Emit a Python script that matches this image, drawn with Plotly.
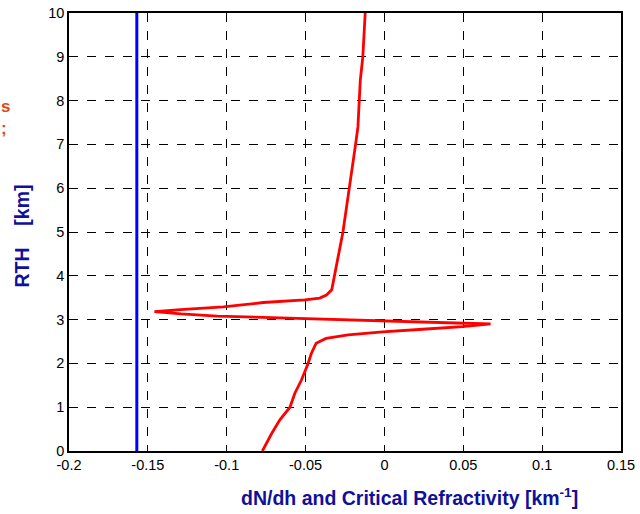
import plotly.graph_objects as go

# Refractivity gradient profile dN/dh [1/km] versus height [km]
dndh = [-0.0774, -0.0715, -0.0663, -0.0599, -0.0568, -0.0526, -0.0484, -0.0463,
        -0.0433, -0.0370, -0.0230, -0.0011, 0.0242, 0.0495, 0.0673, 0.0390,
        0.0137, -0.0179, -0.0494, -0.0811, -0.1060, -0.1290, -0.1458, -0.1294,
        -0.1021, -0.0768, -0.0505, -0.0410, -0.0368, -0.0334, -0.0315, -0.0290,
        -0.0263, -0.0242, -0.0225, -0.0204, -0.0183, -0.0168, -0.0158, -0.0153,
        -0.0137, -0.0122]
height = [0.00, 0.40, 0.71, 1.00, 1.32, 1.62, 2.00, 2.23,
          2.46, 2.57, 2.65, 2.72, 2.78, 2.84, 2.90, 2.93,
          2.95, 2.99, 3.01, 3.05, 3.08, 3.13, 3.18, 3.23,
          3.29, 3.39, 3.45, 3.49, 3.56, 3.68, 4.00, 4.50,
          5.00, 5.50, 6.00, 6.50, 7.00, 7.40, 8.00, 8.47,
          9.00, 10.00]

# Critical refractivity gradient (constant)
critical = -0.157
crit_height = [0, 10]

x_ticks = [-0.2, -0.15, -0.1, -0.05, 0, 0.05, 0.1, 0.15]
x_tick_text = ["-0.2", "-0.15", "-0.1", "-0.05", "0", "0.05", "0.1", "0.15"]
y_ticks = list(range(0, 11))

fig = go.Figure()
fig.add_trace(go.Scatter(x=[critical, critical], y=crit_height, mode="lines",
                         line=dict(color="#0000ff", width=3), showlegend=False))
fig.add_trace(go.Scatter(x=dndh, y=height, mode="lines",
                         line=dict(color="#ff0000", width=2.8), showlegend=False))

axis_common = dict(showline=True, linecolor="black", linewidth=1.5, mirror=True,
                   showgrid=True, gridcolor="black", gridwidth=1, griddash="dash",
                   zeroline=False, ticks="", automargin=False,
                   tickfont=dict(family="Arial, Liberation Sans", size=14.5, color="black"))

fig.update_xaxes(range=[-0.2, 0.15], tickvals=x_ticks, ticktext=x_tick_text, **axis_common)
fig.update_yaxes(range=[0, 10], tickvals=y_ticks, **axis_common)

blue = "#10109a"
fig.add_annotation(text="<b>dN/dh and Critical Refractivity [km<sup>-1</sup>]</b>",
                   xref="paper", yref="paper", x=0.617, y=-0.105,
                   xanchor="center", yanchor="middle", showarrow=False,
                   font=dict(family="Arial, Liberation Sans", size=19.5, color=blue))
fig.add_annotation(text="<b>RTH\u00a0\u00a0\u00a0\u00a0[km]</b>",
                   xref="paper", yref="paper", x=-0.085, y=0.49, textangle=-90,
                   xanchor="center", yanchor="middle", showarrow=False,
                   font=dict(family="Arial, Liberation Sans", size=19.5, color=blue))

# Trailing characters of the left-hand heading (two lines)
orange = "#e04a14"
fig.add_annotation(text="<b>s<br>;</b>", xref="paper", yref="paper", x=-0.127, y=0.762,
                   xanchor="left", yanchor="middle", align="left", showarrow=False,
                   font=dict(family="Arial, Liberation Sans", size=17, color=orange))

fig.update_layout(width=640, height=514, margin=dict(l=69, r=19, t=13, b=63),
                  plot_bgcolor="white", paper_bgcolor="white")

fig.write_html("out.html")
